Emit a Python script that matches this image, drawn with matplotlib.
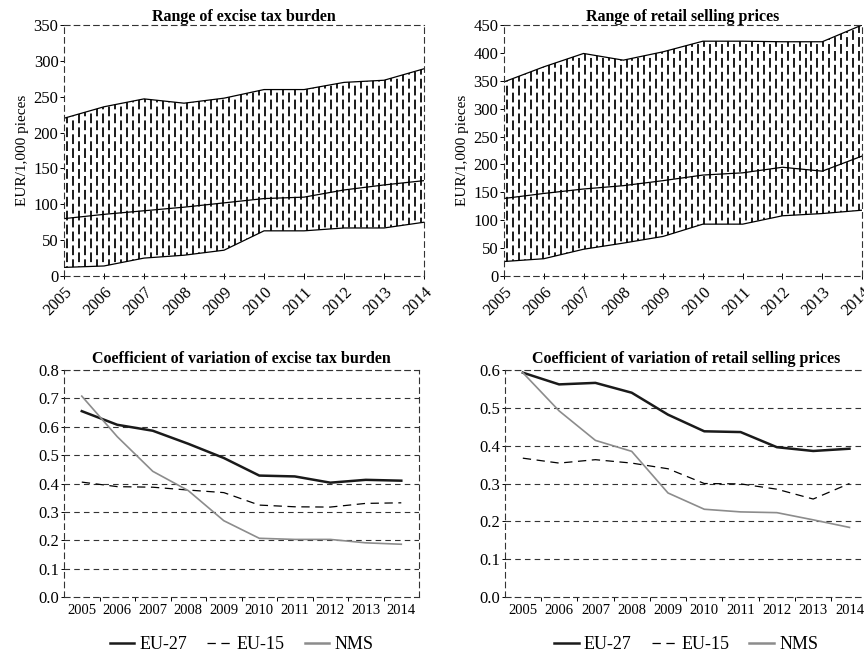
import numpy as np
import matplotlib
matplotlib.use('Agg')
import matplotlib.pyplot as plt
from matplotlib.lines import Line2D

plt.rcParams['font.family'] = ['Liberation Serif', 'DejaVu Serif']
plt.rcParams['font.size'] = 10
plt.rcParams['lines.scale_dashes'] = False

years = list(range(2005, 2015))
year_labels = [str(y) for y in years]

# range of excise tax burden (EUR/1,000 pieces)
tax_max = [220, 236, 247, 241, 248, 260, 260, 270, 273, 289]
tax_avg = [80, 86, 91, 96, 102, 108, 110, 120, 127, 133]
tax_min = [12, 14, 25, 29, 36, 63, 63, 67, 67, 75]

# range of retail selling prices (EUR/1,000 pieces)
price_max = [348, 375, 399, 387, 402, 421, 421, 420, 420, 450]
price_avg = [139, 148, 156, 162, 171, 181, 185, 195, 188, 215]
price_min = [26, 31, 48, 59, 71, 93, 93, 108, 112, 118]

# coefficient of variation of excise tax burden
cv_tax_eu27 = [0.655, 0.607, 0.586, 0.540, 0.490, 0.428, 0.425, 0.403, 0.413, 0.410]
cv_tax_eu15 = [0.405, 0.389, 0.387, 0.377, 0.368, 0.324, 0.318, 0.317, 0.330, 0.332]
cv_tax_nms = [0.708, 0.565, 0.443, 0.375, 0.269, 0.207, 0.203, 0.203, 0.191, 0.186]

# coefficient of variation of retail selling prices
cv_price_eu27 = [0.593, 0.562, 0.566, 0.540, 0.482, 0.438, 0.436, 0.396, 0.386, 0.392]
cv_price_eu15 = [0.367, 0.354, 0.363, 0.354, 0.339, 0.300, 0.299, 0.285, 0.259, 0.300]
cv_price_nms = [0.593, 0.492, 0.414, 0.385, 0.275, 0.232, 0.225, 0.223, 0.204, 0.184]

dash = (0, (4, 3))
frame_col = '#333333'


def dashed_frame(ax):
    for s in ax.spines.values():
        s.set_linestyle(dash)
        s.set_linewidth(0.8)
        s.set_color(frame_col)


def range_panel(ax, lo, mid, hi, ymax, title):
    fill = ax.fill_between(years, lo, hi, facecolor='white', edgecolor='none')
    clip = fill.get_paths()[0]
    xs = np.arange(years[0] + 0.08, years[-1], 0.15)
    for k, off in enumerate([0, 5]):
        vl = ax.vlines(xs[k::2], 0, ymax, colors='#1a1a1a', linewidth=1.4,
                       linestyles=[(off, (7.0, 3.0))])
        vl.set_clip_path(clip, ax.transData)
    ax.plot(years, hi, color='black', lw=0.9)
    ax.plot(years, mid, color='black', lw=0.9)
    ax.plot(years, lo, color='black', lw=0.9)
    ax.set_xlim(years[0], years[-1])
    ax.set_ylim(0, ymax)
    ax.set_yticks(range(0, ymax + 1, 50))
    ax.set_xticks(years)
    ax.set_xticklabels(year_labels, rotation=45, ha='right', rotation_mode='anchor')
    ax.tick_params(axis='x', direction='inout', length=4, width=0.7, pad=4)
    ax.tick_params(axis='y', direction='out', length=3, width=0.7, pad=1)
    ax.tick_params(labelsize=12)
    ax.set_ylabel('EUR/1,000 pieces', fontsize=11, labelpad=3)
    ax.set_title(title, fontweight='bold', fontsize=11.5, pad=3)
    dashed_frame(ax)


def cv_panel(ax, eu27, eu15, nms, ymax, title):
    pos = np.arange(len(years))
    for y in np.arange(0.1, ymax + 0.001, 0.1):
        ax.axhline(y, color=frame_col, lw=0.8, ls=dash)
    ax.plot(pos, eu27, color='#1a1a1a', lw=1.8, label='EU-27')
    ax.plot(pos, eu15, color='black', lw=0.9, ls=(0, (6, 4)), label='EU-15')
    ax.plot(pos, nms, color='#8c8c8c', lw=1.2, label='NMS')
    ax.set_xlim(-0.5, len(years) - 0.5)
    ax.set_ylim(0, ymax)
    ax.set_yticks(np.arange(0, ymax + 0.001, 0.1))
    ax.set_yticklabels(['%.1f' % v for v in np.arange(0, ymax + 0.001, 0.1)], fontsize=12)
    ax.set_xticks(pos)
    ax.set_xticklabels(year_labels, fontsize=10.5)
    ax.set_xticks(pos[:-1] + 0.5, minor=True)
    ax.tick_params(axis='x', which='major', length=0, pad=5)
    ax.tick_params(axis='x', which='minor', direction='out', length=3, width=0.7)
    ax.tick_params(axis='y', direction='inout', length=5, width=0.7, pad=1)
    ax.set_title(title, fontweight='bold', fontsize=11.5, pad=5)
    dashed_frame(ax)
    handles = [Line2D([], [], color='#1a1a1a', lw=1.8),
               Line2D([], [], color='black', lw=0.9, ls=(0, (6, 4))),
               Line2D([], [], color='#8c8c8c', lw=1.8)]
    ax.legend(handles, ['EU-27', 'EU-15', 'NMS'], loc='upper center',
              bbox_to_anchor=(0.5, -0.126), ncol=3, frameon=False,
              fontsize=13, handlelength=1.35, columnspacing=1.1, handletextpad=0.3,
              borderaxespad=0.2)


fig = plt.figure(figsize=(8.64, 6.55), dpi=100)
ax1 = fig.add_axes([0.0741, 0.5786, 0.4167, 0.3832])
ax2 = fig.add_axes([0.5833, 0.5786, 0.4144, 0.3832])
ax3 = fig.add_axes([0.0741, 0.0885, 0.4109, 0.3466])
ax4 = fig.add_axes([0.5841, 0.0885, 0.4201, 0.3466])

range_panel(ax1, tax_min, tax_avg, tax_max, 350, 'Range of excise tax burden')
range_panel(ax2, price_min, price_avg, price_max, 450, 'Range of retail selling prices')
cv_panel(ax3, cv_tax_eu27, cv_tax_eu15, cv_tax_nms, 0.8,
         'Coefficient of variation of excise tax burden')
cv_panel(ax4, cv_price_eu27, cv_price_eu15, cv_price_nms, 0.6,
         'Coefficient of variation of retail selling prices')

fig.savefig('out.png', dpi=100)
